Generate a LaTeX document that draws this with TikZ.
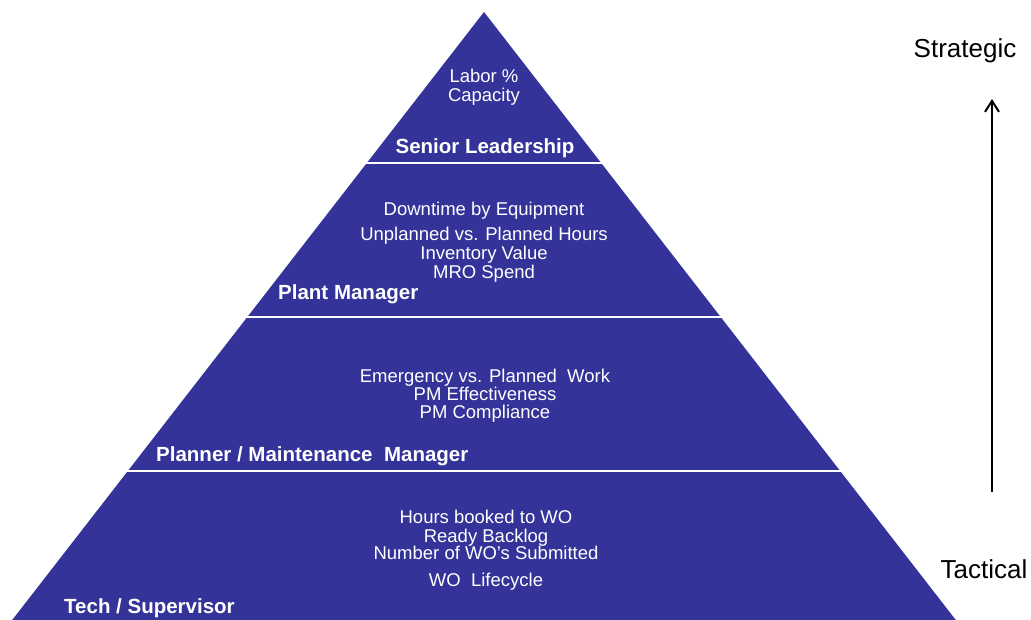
\documentclass[tikz,border=0pt]{standalone}
\usepackage{fontspec}
\setmainfont{Liberation Sans}
\usepackage{xcolor}
\usepackage{tikz}
\usetikzlibrary{arrows.meta}

\definecolor{pyrblue}{RGB}{51,51,153}

\tikzset{
	metric/.style={text=white,font=\fontsize{18.5}{19}\selectfont,align=center,inner sep=0pt},
	role/.style={text=white,font=\fontsize{20.5}{22}\selectfont\bfseries,inner sep=0pt},
	level/.style={font=\fontsize{26}{28}\selectfont,inner sep=0pt},
	divider/.style={white,line width=2.5pt}
}

\begin{document}
\begin{tikzpicture}[x=1pt,y=-1pt]
		\useasboundingbox (0,0) rectangle (1031,619);
		\clip (0,0) rectangle (1031,619);

		% pyramid
		\coordinate (T) at (484,12);
		\coordinate (L) at (6,628);
		\coordinate (R) at (962,628);
		\fill[pyrblue] (T) -- (R) -- (L) -- cycle;

		\coordinate (A) at (366,163);
		\coordinate (A') at (602,163);
		\coordinate (B) at (246,317);
		\coordinate (B') at (722,317);
		\coordinate (C) at (126,471);
		\coordinate (C') at (842,471);
		\draw[divider] (A) -- (A');
		\draw[divider] (B) -- (B');
		\draw[divider] (C) -- (C');

		% metrics
		\node[metric] (m1) at (484,87) {Labor \%\\Capacity};
		\node[metric] (m2) at (484,242) {Downtime by Equipment\\[6pt]Unplanned vs. Planned Hours\\Inventory Value\\MRO Spend};
		\node[metric] (m3) at (485,395.5) {Emergency vs. Planned~~Work\\[-1pt]PM Effectiveness\\[-1pt]PM Compliance};
		\node[metric] (m4) at (486,550) {Hours booked to WO\\Ready Backlog\\[-2pt]Number of WO's Submitted\\[8pt]WO~~Lifecycle};

		% roles
		\node[role] (r1) at (485,148) {Senior Leadership};
		\node[role,anchor=west] (r2) at (278,294) {Plant Manager};
		\node[role,anchor=west] (r3) at (156,456) {Planner / Maintenance~~Manager};
		\node[role,anchor=west] (r4) at (64,608) {Tech / Supervisor};

		% scale
		\node[level] (S) at (965,51) {Strategic};
		\node[level] (Tc) at (984,569) {Tactical};
		\coordinate (up) at (992,99);
		\coordinate (down) at (992,492);
		\draw[line width=2pt,-{Straight Barb[length=11pt,width=14pt]}] (down) -- (up);
\end{tikzpicture}
\end{document}
